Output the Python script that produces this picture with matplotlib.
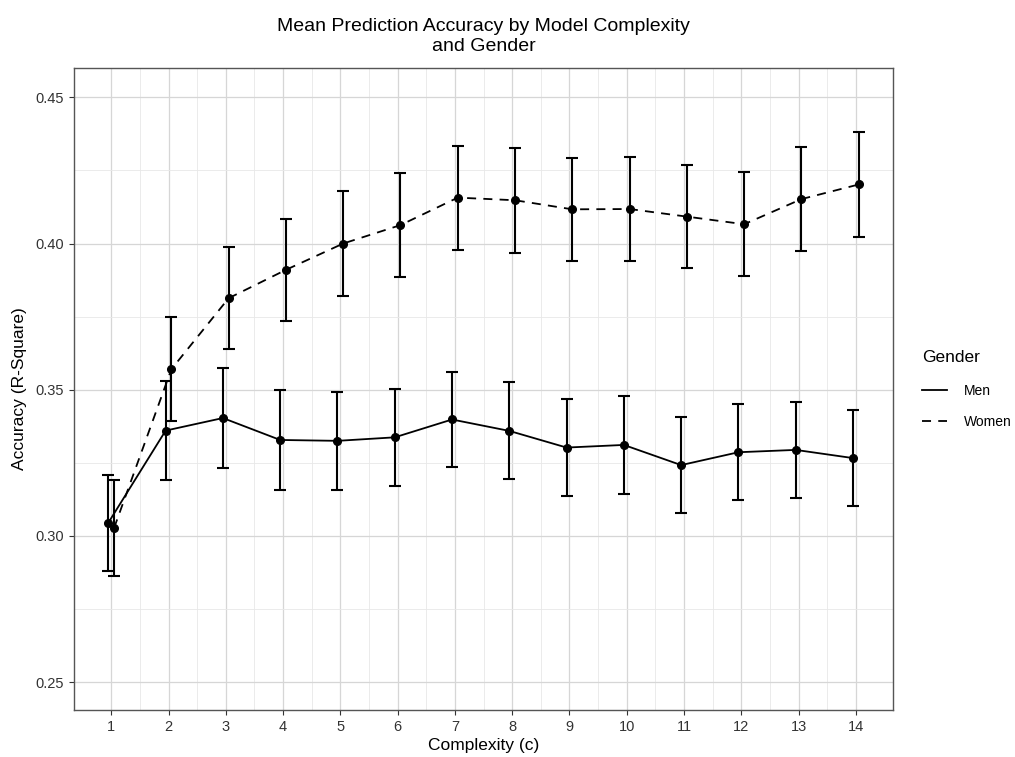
import matplotlib.pyplot as plt
import numpy as np

plt.rcParams['font.family'] = ['Liberation Sans', 'DejaVu Sans']

complexity = list(range(1, 15))
tick_labels = [str(c) for c in complexity]

men_mean = [0.3045, 0.3360, 0.3403, 0.3328, 0.3325, 0.3337, 0.3398,
            0.3359, 0.3302, 0.3311, 0.3242, 0.3286, 0.3294, 0.3266]
men_err = [0.0164, 0.0168, 0.0172, 0.0170, 0.0167, 0.0167, 0.0164,
           0.0166, 0.0166, 0.0168, 0.0164, 0.0164, 0.0164, 0.0165]

women_mean = [0.3027, 0.3570, 0.3813, 0.3910, 0.4000, 0.4063, 0.4157,
              0.4148, 0.4117, 0.4118, 0.4092, 0.4066, 0.4152, 0.4202]
women_err = [0.0165, 0.0178, 0.0174, 0.0175, 0.0178, 0.0178, 0.0178,
             0.0180, 0.0177, 0.0178, 0.0177, 0.0177, 0.0177, 0.0180]

DODGE = 0.05

fig = plt.figure(figsize=(10.15, 7.57), dpi=100)
ax = fig.add_axes([0.0729, 0.062, 0.807, 0.848])

x = np.array(complexity, dtype=float)
series = [
    ("Men", men_mean, men_err, x - DODGE, '-'),
    ("Women", women_mean, women_err, x + DODGE, (0, (5, 4))),
]
for name, mean, err, xs, ls in series:
    ax.errorbar(xs, mean, yerr=err, fmt='none', ecolor='black',
                elinewidth=1.5, capsize=4.5, capthick=1.5, zorder=3)
    ax.plot(xs, mean, color='black', linestyle=ls, linewidth=1.3,
            label=name, zorder=4)
    ax.plot(xs, mean, 'o', color='black', markersize=5.5, zorder=5)

ax.set_xlim(0.35, 14.65)
ax.set_ylim(0.2404, 0.46)
ax.set_xticks(complexity)
ax.set_xticklabels(tick_labels)
ax.set_xticks(np.arange(1.5, 14, 1.0), minor=True)
ax.set_yticks([0.25, 0.30, 0.35, 0.40, 0.45])
ax.set_yticklabels(['0.25', '0.30', '0.35', '0.40', '0.45'])
ax.set_yticks([0.275, 0.325, 0.375, 0.425], minor=True)

ax.grid(True, which='major', color='#d6d6d6', linewidth=0.9, zorder=0)
ax.grid(True, which='minor', color='#e8e8e8', linewidth=0.6, zorder=0)
ax.set_axisbelow(True)
for s in ax.spines.values():
    s.set_color('#555555')
    s.set_linewidth(1.0)
ax.tick_params(which='major', direction='out', length=3.5, width=0.8,
               color='#333333', labelcolor='#333333', labelsize=10.5)
ax.tick_params(which='minor', length=0)

ax.set_xlabel("Complexity (c)", fontsize=12.5, labelpad=3)
ax.set_ylabel("Accuracy (R-Square)", fontsize=12.5, labelpad=6)
ax.set_title("Mean Prediction Accuracy by Model Complexity\nand Gender",
             fontsize=14, pad=12, linespacing=1.3)

leg = ax.legend(title="Gender", loc='center left', bbox_to_anchor=(1.02, 0.5),
                frameon=False, fontsize=10, title_fontsize=12.5,
                handlelength=1.8, handletextpad=1.2, labelspacing=1.2)
leg._legend_box.align = 'left'
leg._legend_box.sep = 14

fig.savefig("out.png", dpi=100)
